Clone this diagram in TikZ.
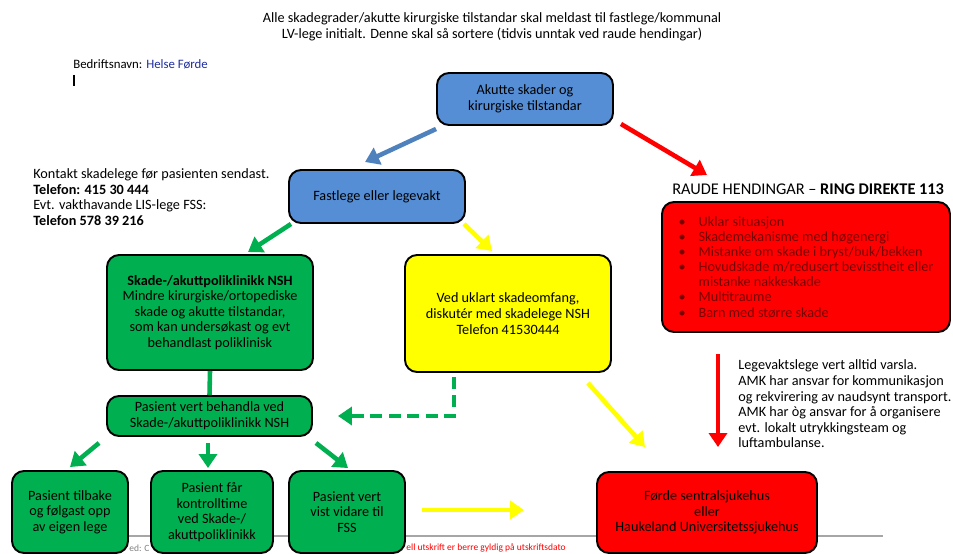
\documentclass[tikz,border=0pt]{standalone}
\usepackage{fontspec}
\setmainfont{Carlito}
\usetikzlibrary{arrows.meta,calc}

\definecolor{boxblue}{RGB}{85,142,213}
\definecolor{arrowblue}{RGB}{79,129,189}
\definecolor{boxgreen}{RGB}{0,176,80}
\definecolor{boxyellow}{RGB}{255,255,0}
\definecolor{boxred}{RGB}{255,0,0}
\definecolor{firmblue}{RGB}{30,45,160}
\definecolor{listred}{RGB}{120,0,0}

\begin{document}
\begin{tikzpicture}[x=0.02cm,y=-0.02cm,
  font=\fontsize{8.1}{8.9}\selectfont,
  main node/.style={draw=black,line width=1.1pt,rounded corners=0.24cm,align=center,inner sep=2pt},
  boxsize/.style 2 args={minimum width=#1*0.02cm,minimum height=#2*0.02cm},
  fat/.style={line width=2.6pt,-{Triangle[length=0.28cm,width=0.36cm]}}]

  \useasboundingbox (0,0) rectangle (953,554);
  \clip (0,0) rectangle (953,554);

  % footer under the bottom row
  \draw[gray!70,line width=1pt] (128,536) -- (883,536);
  \node[anchor=west,gray,inner sep=0,font=\fontsize{5.4}{6}\selectfont] (15) at (129,548) {ed: C};
  \node[anchor=west,red,inner sep=0,font=\fontsize{5.4}{6}\selectfont] (16) at (406,548) {ell utskrift er berre gyldig på utskriftsdato};

  % texts
  \node[align=center,inner sep=0,font=\fontsize{8.1}{9.1}\selectfont] (13) at (492,27) {Alle skadegrader/akutte kirurgiske tilstandar skal meldast til fastlege/kommunal\\LV-lege initialt. Denne skal så sortere (tidvis unntak ved raude hendingar)};
  \node[anchor=west,inner sep=0,font=\fontsize{7.3}{8}\selectfont] (14) at (73,64) {Bedriftsnavn: \textcolor{firmblue}{Helse Førde}};
  \draw[line width=0.8pt] (74,75) -- (74,86);
  \node[anchor=west,align=left,inner sep=0] (12) at (33,197) {Kontakt skadelege før pasienten sendast.\\\textbf{Telefon: 415 30 444}\\Evt. vakthavande LIS-lege FSS:\\\textbf{Telefon 578 39 216}};
  \node[anchor=west,inner sep=0,font=\fontsize{9.3}{10}\selectfont] (9) at (672,189) {RAUDE HENDINGAR -- \textbf{RING DIREKTE 113}};
  \node[anchor=west,align=left,inner sep=0] (11) at (738,404) {Legevaktslege vert alltid varsla.\\AMK har ansvar for kommunikasjon\\og rekvirering av naudsynt transport.\\AMK har òg ansvar for å organisere\\evt. lokalt utrykkingsteam og\\luftambulanse.};

  % boxes
  \node[main node,fill=boxblue,boxsize={176}{52}] (0) at (525,99) {Akutte skader og\\kirurgiske tilstandar};
  \node[main node,fill=boxblue,boxsize={176}{53}] (1) at (377,196.5) {Fastlege eller legevakt};
  \node[main node,fill=boxgreen,boxsize={206}{115}] (2) at (210,312.5) {\textbf{Skade-/akuttpoliklinikk NSH}\\Mindre kirurgiske/ortopediske\\skade og akutte tilstandar,\\som kan undersøkast og evt\\behandlast poliklinisk};
  \node[main node,fill=boxyellow,boxsize={206}{117}] (3) at (508,313.5) {Ved uklart skadeomfang,\\diskutér med skadelege NSH\\Telefon 41530444};
  \node[main node,fill=boxgreen,boxsize={205}{40}] (4) at (209.5,416) {Pasient vert behandla ved\\Skade-/akuttpoliklinikk NSH};
  \node[main node,fill=boxgreen,boxsize={116}{82}] (5) at (70,512) {Pasient tilbake\\og følgast opp\\av eigen lege};
  \node[main node,fill=boxgreen,boxsize={122}{82}] (6) at (212,512) {Pasient får\\kontrolltime\\ved Skade-/\\akuttpoliklinikk};
  \node[main node,fill=boxgreen,boxsize={116}{82}] (7) at (347,512) {Pasient vert\\vist vidare til\\FSS};
  \node[main node,fill=boxred,boxsize={288}{130},align=left,text=listred,font=\fontsize{8.1}{8.6}\selectfont] (8) at (806,267) {%
    \makebox[0.40cm][l]{\textbullet}Uklar situasjon\\
    \makebox[0.40cm][l]{\textbullet}Skademekanisme med høgenergi\\
    \makebox[0.40cm][l]{\textbullet}Mistanke om skade i bryst/buk/bekken\\
    \makebox[0.40cm][l]{\textbullet}Hovudskade m/redusert bevisstheit eller\\
    \hspace*{0.40cm}mistanke nakkeskade\\
    \makebox[0.40cm][l]{\textbullet}Multitraume\\
    \makebox[0.40cm][l]{\textbullet}Barn med større skade};
  \node[main node,fill=boxred,boxsize={220}{81}] (10) at (707,512.5) {Førde sentralsjukehus\\eller\\Haukeland Universitetssjukehus};

  % arrows
  \path
    ($(0.south west)+(0,3)$) edge[fat,arrowblue] ($(1.north)+(-12,-7)$)
    ($(0.south east)+(7,-2)$) edge[fat,boxred] ($(9.west)+(35,-14)$)
    ($(1.south west)+(3,0)$) edge[fat,boxgreen] ($(2.north)+(38,-2)$)
    ($(1.south east)+(-2,0)$) edge[fat,boxyellow] ($(3.north)+(-16,-3)$)
    (2.south) edge[line width=2.6pt,boxgreen] (4.north)
    ($(3.south east)+(-24,10)$) edge[fat,boxyellow] ($(10.north)+(-62,-24)$)
    ($(8.south)+(-88,21)$) edge[fat,boxred] ($(10.north)+(11,-24)$)
    ($(4.south west)+(-7,6)$) edge[fat,boxgreen] ($(5.north)+(0,-3)$)
    ($(4.south)+(-1.5,6)$) edge[fat,boxgreen] ($(6.north)+(-4,-2)$)
    ($(4.south east)+(3,6)$) edge[fat,boxgreen] ($(7.north)+(1,-2)$)
    ($(7.east)+(16,-2)$) edge[fat,boxyellow] ($(10.west)+(-72,-2.5)$);
  \draw[fat,boxgreen,dash pattern=on 0.24cm off 0.13cm] ($(3.south)+(-54,4)$) |- ($(4.east)+(25,0)$);

\end{tikzpicture}
\end{document}
